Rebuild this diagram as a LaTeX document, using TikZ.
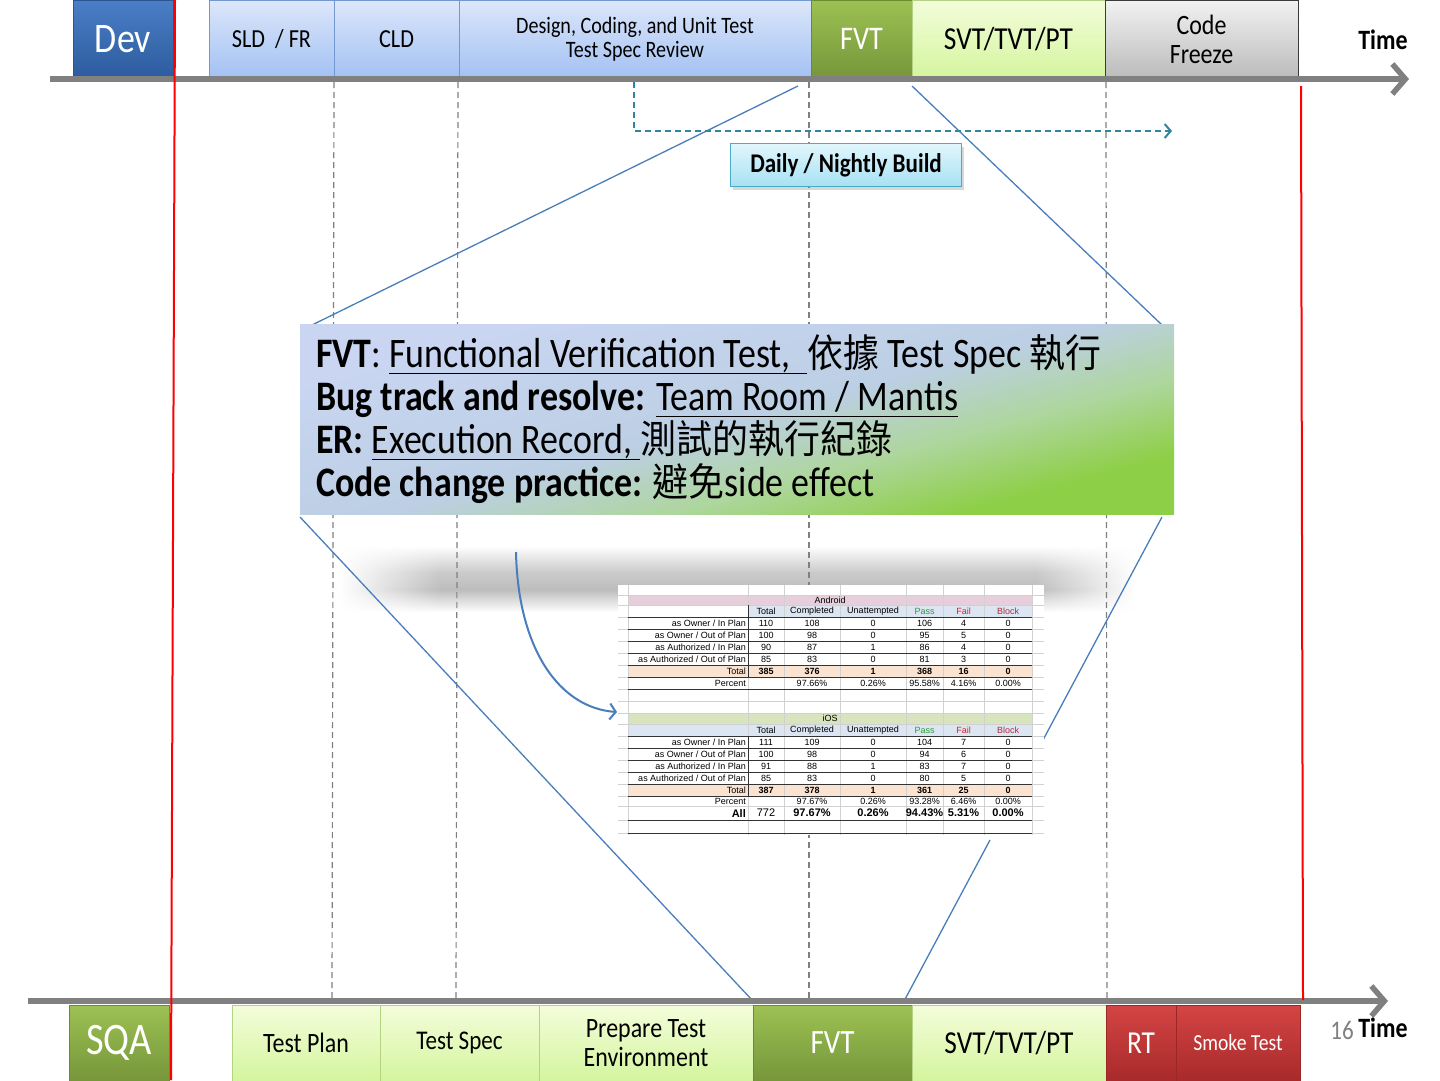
\documentclass[tikz,border=0pt]{standalone}
\usepackage{fontspec}
\setmainfont{Carlito}[FakeStretch=0.855]
\newfontfamily\cjk{Noto Sans CJK TC}[FakeStretch=0.92, Scale=0.93]
\newfontfamily\tblfont{Liberation Sans}
\usetikzlibrary{arrows.meta,shadows,fadings}

\definecolor{devtop}{HTML}{4A7EC6}
\definecolor{devbot}{HTML}{2C5C9E}
\definecolor{devborder}{HTML}{2A5590}
\definecolor{bluetop}{HTML}{DCE7FA}
\definecolor{bluebot}{HTML}{A3C1F3}
\definecolor{blueborder}{HTML}{7397D0}
\definecolor{fvttop}{HTML}{9DC153}
\definecolor{fvtbot}{HTML}{76963A}
\definecolor{fvtborder}{HTML}{6B8A32}
\definecolor{lgtop}{HTML}{F3FDDA}
\definecolor{lgbot}{HTML}{D4F59E}
\definecolor{lgborder}{HTML}{B3D383}
\definecolor{graytop}{HTML}{F2F2F2}
\definecolor{graybot}{HTML}{BBBBBB}
\definecolor{grayborder}{HTML}{3A3A3A}
\definecolor{redtop}{HTML}{D44444}
\definecolor{redbot}{HTML}{A82A2A}
\definecolor{redborder}{HTML}{9A2626}
\definecolor{axisgray}{HTML}{808080}
\definecolor{buildteal}{HTML}{31859C}
\definecolor{dailytop}{HTML}{E2F6FC}
\definecolor{dailybot}{HTML}{A6E1F4}
\definecolor{dailyborder}{HTML}{4BACC6}
\definecolor{zoomblue}{HTML}{4A7EBB}
\definecolor{tbA}{HTML}{C9D5F1}
\definecolor{tbM}{HTML}{BCCFE4}
\definecolor{tbG}{HTML}{AED69E}
\definecolor{tbB}{HTML}{8ECF48}
\definecolor{andpink}{HTML}{E6CFDB}
\definecolor{iosgreen}{HTML}{D8E4BE}
\definecolor{hdrblue}{HTML}{DCE6F2}
\definecolor{peach}{HTML}{FBE3D1}
\definecolor{passgreen}{HTML}{2E9A3E}
\definecolor{failred}{HTML}{E02020}
\definecolor{blockred}{HTML}{B02A3A}
\definecolor{shadowgray}{HTML}{BDBDBD}

\pgfdeclareverticalshading{tbshade}{100bp}{color(0bp)=(tbB); color(28bp)=(tbB); color(39bp)=(tbG); color(50bp)=(tbM); color(72bp)=(tbA); color(100bp)=(tbA)}
\pgfdeclareverticalshading{shadowshade}{100bp}{color(0bp)=(white); color(25bp)=(white); color(42bp)=(shadowgray); color(55bp)=(shadowgray!80!white); color(75bp)=(white); color(100bp)=(white)}

\newcommand\fsz[1]{\fontsize{#1}{#1}\selectfont}
\newsavebox\ulbox
\newcommand\myul[1]{\sbox\ulbox{#1}\rlap{\rule[-7pt]{\wd\ulbox}{1.4pt}}\usebox\ulbox}

\tikzset{
  phasebox/.style={anchor=north west, inner sep=0pt, outer sep=0pt, minimum height=78pt, align=center, line width=1pt},
  devbox/.style={phasebox, draw=devborder, top color=devtop, bottom color=devbot, text=white},
  bluebox/.style={phasebox, draw=blueborder, top color=bluetop, bottom color=bluebot, text=black},
  fvtbox/.style={phasebox, draw=fvtborder, top color=fvttop, bottom color=fvtbot, text=white},
  lgbox/.style={phasebox, draw=lgborder, top color=lgtop, bottom color=lgbot, text=black},
  graybox/.style={phasebox, draw=grayborder, top color=graytop, bottom color=graybot, text=black},
  redbox/.style={phasebox, draw=redborder, top color=redtop, bottom color=redbot, text=white},
  axisline/.style={draw=axisgray, line width=6pt, -{Straight Barb[length=13pt, width=30pt, line width=5.5pt]}},
  redline/.style={draw=red, line width=2pt},
  dashline/.style={draw=gray, line width=1.2pt, dash pattern=on 6pt off 4pt},
  zoomline/.style={draw=zoomblue, line width=1.3pt},
  builddash/.style={draw=buildteal, line width=2pt, dash pattern=on 6pt off 4pt, -{Straight Barb[length=6pt, width=14pt, line width=2pt]}},
  dailybox/.style={draw=dailyborder, line width=1pt, top color=dailytop, bottom color=dailybot, minimum width=231pt, minimum height=43pt, inner sep=0pt, font=\bfseries\fsz{27}, drop shadow={opacity=0.3, shadow xshift=2pt, shadow yshift=-3pt}},
  textbox/.style={anchor=north west, inner sep=0pt, minimum width=874pt, minimum height=190pt, shade, shading=tbshade, shading angle=15},
  tline/.style={anchor=base west, inner sep=0pt, text height=28pt, text depth=8pt, font=\fsz{42}},
  tcell/.style={inner sep=0pt, font=\tblfont\fontsize{9}{10}\selectfont},
  gridl/.style={draw=black!18, line width=0.6pt},
  blk/.style={draw=black!80, line width=0.7pt},
  curvearrow/.style={draw=zoomblue, line width=2pt, -{Straight Barb[length=6pt, width=16pt, line width=2pt]}},
}

\tikzfading[name=fadeleft, left color=transparent!100, right color=transparent!0]
\tikzfading[name=faderight, left color=transparent!0, right color=transparent!100]

\begin{document}
\begin{tikzpicture}[x=1pt, y=-1pt]
\useasboundingbox (0,0) rectangle (1440,1080);
\fill[white] (0,0) rectangle (1440,1080);

% shadow band under the text box
\shade[shading=shadowshade] (440,546) rectangle (1035,612);
\shade[shading=shadowshade, path fading=fadeleft] (340,546) rectangle (440.5,612);
\shade[shading=shadowshade, path fading=faderight] (1034.5,546) rectangle (1135,612);

% dashed phase separators
\coordinate (d1a) at (334,82); \coordinate (d1b) at (332,998);
\coordinate (d2a) at (458,82); \coordinate (d2b) at (456,998);
\coordinate (d3a) at (809,82); \coordinate (d3b) at (809,998);
\coordinate (d4a) at (1106,82); \coordinate (d4b) at (1107,998);
\draw[dashline] (d1a) -- (d1b);
\draw[dashline] (d2a) -- (d2b);
\draw[dashline] (d3a) -- (d3b);
\draw[dashline] (d4a) -- (d4b);

% zoom lines
\coordinate (z1a) at (798,86);  \coordinate (z1b) at (312,325);
\coordinate (z2a) at (912,86);  \coordinate (z2b) at (1162,325);
\coordinate (z3a) at (300,517); \coordinate (z3b) at (752,1000);
\coordinate (z4a) at (1162,517); \coordinate (z4b) at (1043,740);
\coordinate (z5a) at (990,840); \coordinate (z5b) at (903,1003);
\draw[zoomline] (z1a) -- (z1b);
\draw[zoomline] (z2a) -- (z2b);
\draw[zoomline] (z3a) -- (z3b);
\draw[zoomline] (z4a) -- (z4b);
\draw[zoomline] (z5a) -- (z5b);

% text box
\node[textbox] (tb) at (300,324) {};
\node[tline] (l1) at (316,367) {\textbf{FVT}: \myul{Functional Verification Test,\ \ }{\cjk 依據} Test Spec {\cjk 執行}};
\node[tline] (l2) at (316,410) {\textbf{Bug track and resolve:} \myul{Team Room / Mantis}};
\node[tline] (l3) at (316,453) {\textbf{ER:} \myul{Execution Record,\ }{\cjk 測試的執行紀錄}};
\node[tline] (l4) at (316,496) {\textbf{Code change practice:} {\cjk 避免}side effect};

% table
\node[fill=white, anchor=north west, minimum width=426pt, minimum height=250pt, inner sep=0pt] (tblimg) at (618,585) {};
\fill[andpink] (628,595) rectangle (1032,605);
\fill[hdrblue] (748,605) rectangle (1032,617);
\fill[peach] (628,665) rectangle (1032,677);
\fill[iosgreen] (628,713) rectangle (1032,724);
\fill[hdrblue] (628,724) rectangle (1032,736);
\fill[peach] (628,784) rectangle (1032,796);
\foreach \x in {628,748,784,840,906,943,984,1032}
  \draw[gridl] (\x,585) -- (\x,835);
\foreach \y in {595,605,617,629,641,653,665,677,689,701,713,724,736,748,760,772,784,796,806,820,833}
  \draw[gridl] (618,\y) -- (1044,\y);
\foreach \y in {617,629,641,653,665,677,689}
  \draw[blk] (628,\y) -- (1032,\y);
\draw[blk] (748,605) -- (748,677);
\foreach \y in {736,748,760,772,784,796,820,833}
  \draw[blk] (628,\y) -- (1032,\y);
\draw[blk] (748,736) -- (748,796);

\node[tcell] (andr) at (830,600) {Android};
\node[tcell] (ios) at (830,718.5) {iOS};
\foreach \yy/\nm in {611/a, 730/i}{
  \node[tcell] (\nm H1) at (766,\yy) {Total};
  \node[tcell] (\nm H2) at (812,\yy) {Completed};
  \node[tcell] (\nm H3) at (873,\yy) {Unattempted};
  \node[tcell, text=passgreen] (\nm H4) at (924.5,\yy) {Pass};
  \node[tcell, text=failred] (\nm H5) at (963.5,\yy) {Fail};
  \node[tcell, text=blockred] (\nm H6) at (1008,\yy) {Block};
}
\foreach \lab/\va/\vb/\vc/\vd/\ve/\vf [count=\i] in {%
  {as Owner / In Plan}/110/108/0/106/4/0,
  {as Owner / Out of Plan}/100/98/0/95/5/0,
  {as Authorized / In Plan}/90/87/1/86/4/0,
  {as Authorized / Out of Plan}/85/83/0/81/3/0}{
  \pgfmathsetmacro\yy{611+12*\i}
  \node[tcell, anchor=east] (aL\i) at (746,\yy) {\lab};
  \node[tcell] (aA\i) at (766,\yy) {\va};
  \node[tcell] (aB\i) at (812,\yy) {\vb};
  \node[tcell] (aC\i) at (873,\yy) {\vc};
  \node[tcell] (aD\i) at (924.5,\yy) {\vd};
  \node[tcell] (aE\i) at (963.5,\yy) {\ve};
  \node[tcell] (aF\i) at (1008,\yy) {\vf};
}
\foreach \lab/\va/\vb/\vc/\vd/\ve/\vf [count=\i] in {%
  {as Owner / In Plan}/111/109/0/104/7/0,
  {as Owner / Out of Plan}/100/98/0/94/6/0,
  {as Authorized / In Plan}/91/88/1/83/7/0,
  {as Authorized / Out of Plan}/85/83/0/80/5/0}{
  \pgfmathsetmacro\yy{730+12*\i}
  \node[tcell, anchor=east] (iL\i) at (746,\yy) {\lab};
  \node[tcell] (iA\i) at (766,\yy) {\va};
  \node[tcell] (iB\i) at (812,\yy) {\vb};
  \node[tcell] (iC\i) at (873,\yy) {\vc};
  \node[tcell] (iD\i) at (924.5,\yy) {\vd};
  \node[tcell] (iE\i) at (963.5,\yy) {\ve};
  \node[tcell] (iF\i) at (1008,\yy) {\vf};
}
\foreach \yy/\nm/\va/\vb/\vc/\vd/\ve/\vf in {671/a/385/376/1/368/16/0, 790/i/387/378/1/361/25/0}{
  \node[tcell, anchor=east] (\nm TL) at (746,\yy) {Total};
  \node[tcell, font=\tblfont\bfseries\fontsize{9}{10}\selectfont] (\nm TA) at (766,\yy) {\va};
  \node[tcell, font=\tblfont\bfseries\fontsize{9}{10}\selectfont] (\nm TB) at (812,\yy) {\vb};
  \node[tcell, font=\tblfont\bfseries\fontsize{9}{10}\selectfont] (\nm TC) at (873,\yy) {\vc};
  \node[tcell, font=\tblfont\bfseries\fontsize{9}{10}\selectfont] (\nm TD) at (924.5,\yy) {\vd};
  \node[tcell, font=\tblfont\bfseries\fontsize{9}{10}\selectfont] (\nm TE) at (963.5,\yy) {\ve};
  \node[tcell, font=\tblfont\bfseries\fontsize{9}{10}\selectfont] (\nm TF) at (1008,\yy) {\vf};
}
\foreach \yy/\nm/\vb/\vc/\vd/\ve/\vf in {683/a/97.66\%/0.26\%/95.58\%/4.16\%/0.00\%, 801/i/97.67\%/0.26\%/93.28\%/6.46\%/0.00\%}{
  \node[tcell, anchor=east] (\nm PL) at (746,\yy) {Percent};
  \node[tcell] (\nm PB) at (812,\yy) {\vb};
  \node[tcell] (\nm PC) at (873,\yy) {\vc};
  \node[tcell] (\nm PD) at (924.5,\yy) {\vd};
  \node[tcell] (\nm PE) at (963.5,\yy) {\ve};
  \node[tcell] (\nm PF) at (1008,\yy) {\vf};
}
\begin{scope}[every node/.style={tcell, font=\tblfont\bfseries\fontsize{11}{12}\selectfont}]
  \node[anchor=east] (allL) at (746,813) {All};
  \node[font=\tblfont\fontsize{11}{12}\selectfont] (allA) at (766,813) {772};
  \node (allB) at (812,813) {97.67\%};
  \node (allC) at (873,813) {0.26\%};
  \node (allD) at (924.5,813) {94.43\%};
  \node (allE) at (963.5,813) {5.31\%};
  \node (allF) at (1008,813) {0.00\%};
\end{scope}

% curved arrow
\coordinate (cs) at (516,552); \coordinate (ce) at (617,712);
\draw[curvearrow] (cs) .. controls (518,650) and (560,708) .. (ce);

% daily build arrow & box
\coordinate (bs) at (634,82); \coordinate (be) at (1172,131);
\draw[builddash] (bs) |- (be);
\node[dailybox] (daily) at (846,165) {Daily / Nightly Build};

% top phase boxes
\node[devbox, minimum width=100pt, font=\fsz{42}] (dev) at (73,0) {Dev};
\node[bluebox, minimum width=125pt, font=\fsz{26}] (sld) at (209,0) {SLD\ \ / FR};
\node[bluebox, minimum width=125pt, font=\fsz{26}] (cld) at (334,0) {CLD};
\node[bluebox, minimum width=352pt, font=\fontsize{23.5}{24}\selectfont] (dcu) at (459,0) {Design, Coding, and Unit Test\\Test Spec Review};
\node[fvtbox, minimum width=101pt, font=\fsz{33}] (fvtA) at (811,0) {FVT};
\node[lgbox, minimum width=193pt, font=\fsz{32}] (svtA) at (912,0) {SVT/TVT/PT};
\node[graybox, minimum width=193pt, font=\fontsize{28}{29}\selectfont] (cf) at (1105,0) {Code\\Freeze};
\node[font=\bfseries\fsz{28}] (timeA) at (1383,40) {Time};

% bottom phase boxes
\node[fvtbox, minimum width=100pt, minimum height=76pt, font=\fsz{45}] (sqa) at (69,1005) {SQA};
\node[lgbox, minimum width=148pt, minimum height=76pt, font=\fsz{28}] (tp) at (232,1005) {Test Plan};
\node[lgbox, minimum width=159pt, minimum height=76pt, font=\fsz{27}] (ts) at (380,1005) {Test Spec};
\node[lgbox, minimum width=214pt, minimum height=76pt, font=\fontsize{28}{29}\selectfont] (pte) at (539,1005) {Prepare Test\\Environment};
\node[fvtbox, minimum width=159pt, minimum height=76pt, font=\fsz{34}] (fvtB) at (753,1005) {FVT};
\node[lgbox, minimum width=194pt, minimum height=76pt, font=\fsz{32}] (svtB) at (912,1005) {SVT/TVT/PT};
\node[redbox, minimum width=70pt, minimum height=76pt, font=\fsz{32}] (rt) at (1106,1005) {RT};
\node[redbox, minimum width=124pt, minimum height=76pt, font=\fsz{23}] (smoke) at (1176,1005) {Smoke Test};
\node[text=axisgray, font=\fsz{27}] (pg) at (1342,1030) {16};
\node[font=\bfseries\fsz{28}] (timeB) at (1383,1028) {Time};

% time axes
\coordinate (axA1) at (50,79); \coordinate (axA2) at (1409,79);
\coordinate (axB1) at (28,1001); \coordinate (axB2) at (1388,1001);
\draw[axisline] (axA1) -- (axA2);
\draw[axisline] (axB1) -- (axB2);

% red milestone lines
\coordinate (r1a) at (175,0); \coordinate (r1b) at (171,1080);
\coordinate (r2a) at (1301,86); \coordinate (r2b) at (1303,1000);
\draw[redline] (r1a) -- (r1b);
\draw[redline] (r2a) -- (r2b);
\end{tikzpicture}
\end{document}
